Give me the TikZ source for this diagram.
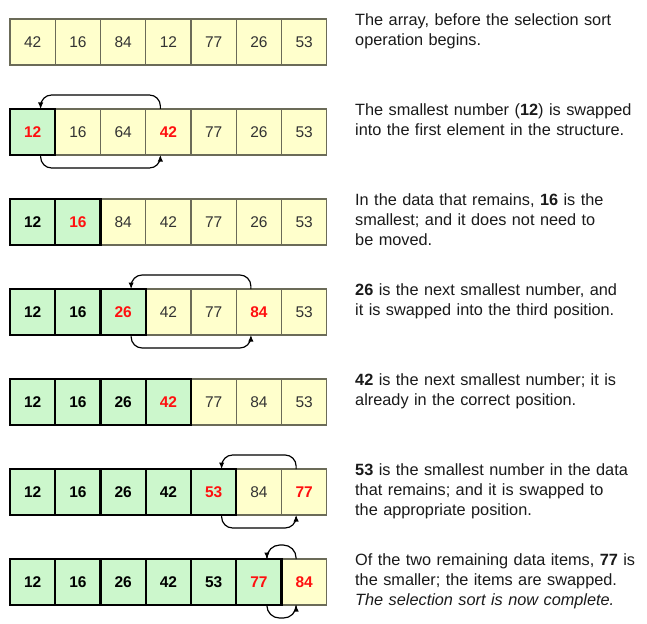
\documentclass[tikz,border=0pt]{standalone}
\usepackage{fontspec}
\setmainfont{Liberation Sans}
\usetikzlibrary{arrows.meta}
\definecolor{yel}{HTML}{FFFFCC}
\definecolor{grn}{HTML}{CCF7CC}
\definecolor{ybord}{HTML}{6B6B58}
\definecolor{numgray}{HTML}{333333}
\definecolor{txt}{HTML}{1A1A1A}
\definecolor{redtxt}{HTML}{FF1010}
\newcommand\cellat[4]{\node[#4] (r#1c#2) at ({10+45.25*(#2-0.5)}, {-(19+90*(#1-1)+23)}) {#3};}
% top arrow: from cell #2 (right) of row #1 over to cell #3 (left); radius #4
\newcommand\toparrow[4]{\draw[swaparrow] ([xshift=-8pt]r#1c#2.north) -- ++(0,{14-#4})
  arc[start angle=0,end angle=90,radius=#4pt] -- ([xshift=8pt+#4pt,yshift=14pt]r#1c#3.north)
  arc[start angle=90,end angle=180,radius=#4pt] -- ([xshift=8pt]r#1c#3.north);}
% bottom arrow: from cell #3 (left) of row #1 under to cell #2 (right); radius #4
\newcommand\botarrow[4]{\draw[swaparrow] ([xshift=8pt]r#1c#3.south) -- ++(0,{-(13-#4)})
  arc[start angle=180,end angle=270,radius=#4pt] -- ([xshift=-8pt-#4pt,yshift=-13pt]r#1c#2.south)
  arc[start angle=270,end angle=360,radius=#4pt] -- ([xshift=-8pt]r#1c#2.south);}
\begin{document}
\begin{tikzpicture}[x=1pt,y=1pt,
  cellbase/.style={minimum width=45.25pt, minimum height=46pt, inner sep=0pt, outer sep=0pt,
    font=\fontsize{15.5}{18}\selectfont},
  ycell/.style={cellbase, fill=yel, draw=ybord, line width=1.2pt, text=numgray},
  gcell/.style={cellbase, fill=grn, draw=black, line width=2.2pt, text=black, font=\fontsize{15.5}{18}\selectfont\bfseries},
  rednum/.style={text=redtxt, font=\fontsize{15.5}{18}\selectfont\bfseries},
  desc/.style={anchor=base west, inner sep=0pt, text width=290pt, align=left, text=txt,
    font=\fontsize{16.3}{20}\selectfont},
  swaparrow/.style={draw=black, line width=1.2pt, -{Latex[length=6.5pt,width=5.5pt]}}
]
\useasboundingbox (0,0) rectangle (647,-623);
\fill[white] (0,0) rectangle (647,-623);

% Row 1
\cellat{1}{1}{42}{ycell}\cellat{1}{2}{16}{ycell}\cellat{1}{3}{84}{ycell}\cellat{1}{4}{12}{ycell}
\cellat{1}{5}{77}{ycell}\cellat{1}{6}{26}{ycell}\cellat{1}{7}{53}{ycell}
% Row 2
\cellat{2}{2}{16}{ycell}\cellat{2}{3}{64}{ycell}\cellat{2}{4}{42}{ycell,rednum}
\cellat{2}{5}{77}{ycell}\cellat{2}{6}{26}{ycell}\cellat{2}{7}{53}{ycell}
\cellat{2}{1}{12}{gcell,rednum}
% Row 3
\cellat{3}{3}{84}{ycell}\cellat{3}{4}{42}{ycell}\cellat{3}{5}{77}{ycell}\cellat{3}{6}{26}{ycell}\cellat{3}{7}{53}{ycell}
\cellat{3}{1}{12}{gcell}\cellat{3}{2}{16}{gcell,rednum}
% Row 4
\cellat{4}{4}{42}{ycell}\cellat{4}{5}{77}{ycell}\cellat{4}{6}{84}{ycell,rednum}\cellat{4}{7}{53}{ycell}
\cellat{4}{1}{12}{gcell}\cellat{4}{2}{16}{gcell}\cellat{4}{3}{26}{gcell,rednum}
% Row 5
\cellat{5}{5}{77}{ycell}\cellat{5}{6}{84}{ycell}\cellat{5}{7}{53}{ycell}
\cellat{5}{1}{12}{gcell}\cellat{5}{2}{16}{gcell}\cellat{5}{3}{26}{gcell}\cellat{5}{4}{42}{gcell,rednum}
% Row 6
\cellat{6}{6}{84}{ycell}\cellat{6}{7}{77}{ycell,rednum}
\cellat{6}{1}{12}{gcell}\cellat{6}{2}{16}{gcell}\cellat{6}{3}{26}{gcell}\cellat{6}{4}{42}{gcell}\cellat{6}{5}{53}{gcell,rednum}
% Row 7
\cellat{7}{7}{84}{ycell,rednum}
\cellat{7}{1}{12}{gcell}\cellat{7}{2}{16}{gcell}\cellat{7}{3}{26}{gcell}\cellat{7}{4}{42}{gcell}\cellat{7}{5}{53}{gcell}\cellat{7}{6}{77}{gcell,rednum}

% Swap arrows
\toparrow{2}{4}{1}{11}\botarrow{2}{4}{1}{11}
\toparrow{4}{6}{3}{11}\botarrow{4}{6}{3}{11}
\toparrow{6}{7}{5}{11}\botarrow{6}{7}{5}{11}
\toparrow{7}{7}{6}{13}\botarrow{7}{7}{6}{12.5}

% Descriptions
\node[desc] (d1) at (355,-25.5) {The array, before the selection sort\\operation begins.};
\node[desc] (d2) at (355,-115.5) {The smallest number (\textbf{12}) is swapped\\into the first element in the structure.};
\node[desc] (d3) at (355,-205.5) {In the data that remains, \textbf{16} is the\\smallest; and it does not need to\\be moved.};
\node[desc] (d4) at (355,-295.5) {\textbf{26} is the next smallest number, and\\it is swapped into the third position.};
\node[desc] (d5) at (355,-385.5) {\textbf{42} is the next smallest number; it is\\already in the correct position.};
\node[desc] (d6) at (355,-475.5) {\textbf{53} is the smallest number in the data\\that remains; and it is swapped to\\the appropriate position.};
\node[desc] (d7) at (355,-565.5) {Of the two remaining data items, \textbf{77} is\\the smaller; the items are swapped.\\\textit{The selection sort is now complete.}};
\end{tikzpicture}
\end{document}
